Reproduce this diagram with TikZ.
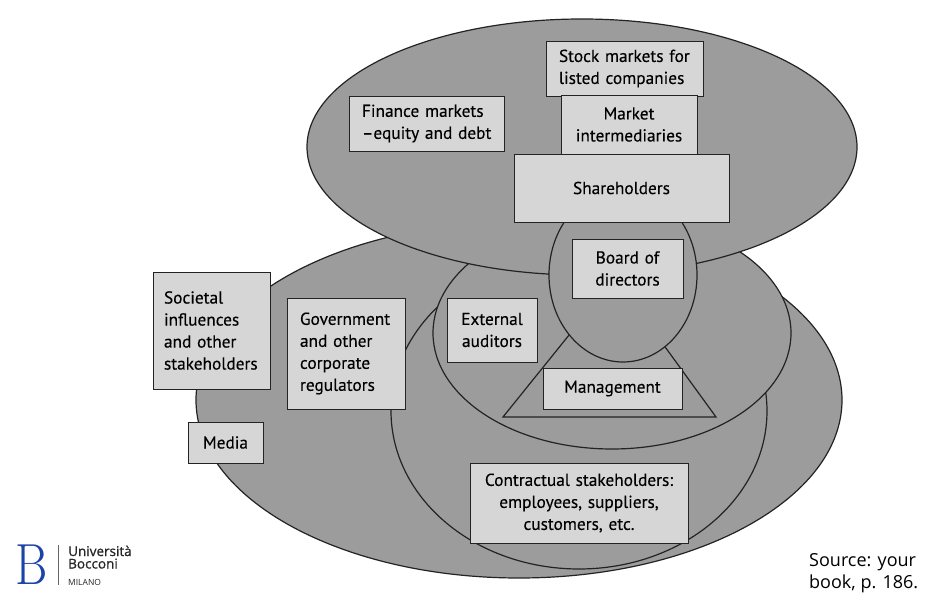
\documentclass[tikz,border=0pt]{standalone}
\usepackage{fontspec}
\newfontfamily\diag[FakeBold=0.25]{PT Sans}
\newfontfamily\srcf{Open Sans}
\newfontfamily\logof[FakeBold=0.9]{Open Sans}
\definecolor{ellc}{RGB}{156,156,156}
\definecolor{boxc}{RGB}{214,214,214}
\definecolor{linec}{RGB}{35,35,35}
\definecolor{bocblue}{RGB}{28,68,168}
\newcommand{\ia}{\hspace*{13pt}}
\newcommand{\ib}{\hspace*{11pt}}
\begin{document}
\begin{tikzpicture}[x=1pt,y=-1pt,
  ell/.style={fill=ellc, draw=linec, line width=1.2pt},
  bx/.style={draw=linec, fill=boxc, line width=0.9pt, inner ysep=0pt, inner xsep=0pt, font=\diag\fontsize{17.3}{22}\selectfont, text=black},
  ctr/.style={align=center},
  lft/.style={align=left},
  srctext/.style={font=\srcf\fontsize{18}{22}\selectfont, inner sep=0pt, anchor=base west},
  logotext/.style={font=\logof\fontsize{13.5}{14}\selectfont, inner sep=0pt, anchor=base west, text=black!85},
]
\useasboundingbox (0,0) rectangle (938,604);
\fill[white] (0,0) rectangle (938,604);
% ellipses
\draw[ell] (519,400) ellipse [x radius=323pt, y radius=178pt];
\draw[ell] (579,411) ellipse [x radius=188pt, y radius=158pt];
\draw[ell] (612,333) ellipse [x radius=179pt, y radius=116pt];
\draw[ell] (582,147) ellipse [x radius=275pt, y radius=128pt];
\draw[ell] (615,278) -- (503,417) -- (716,417) -- cycle;
\draw[ell] (623,275) ellipse [x radius=74pt, y radius=87pt];
% boxes
\node[bx, lft, text width=157pt, minimum width=157pt, minimum height=55pt] (stock) at (624.5,68.5) {\ia Stock markets for\\\ia listed companies};
\node[bx, ctr, text width=136pt, minimum width=136pt, minimum height=59pt] (mkt) at (629,124.5) {Market\\intermediaries};
\node[bx, ctr, text width=215pt, minimum width=215pt, minimum height=68pt] (share) at (621.5,188) {Shareholders};
\node[bx, lft, text width=155pt, minimum width=155pt, minimum height=55pt] (fin) at (426.5,123.5) {\ia Finance markets\\\ia –equity and debt};
\node[bx, ctr, text width=111pt, minimum width=111pt, minimum height=59pt] (board) at (627.5,268.5) {Board of\\directors};
\node[bx, ctr, text width=90pt, minimum width=90pt, minimum height=64pt] (aud) at (492,330) {External\\auditors};
\node[bx, ctr, text width=139pt, minimum width=139pt, minimum height=41pt] (mgmt) at (612.5,388.5) {Management};
\node[bx, lft, text width=117pt, minimum width=117pt, minimum height=117pt] (soc) at (211.5,330.5) {\ib Societal\\\ib influences\\\ib and other\\\ib stakeholders};
\node[bx, lft, text width=118pt, minimum width=118pt, minimum height=111pt] (gov) at (346,353.5) {\ia Government\\\ia and other\\\ia corporate\\\ia regulators};
\node[bx, ctr, text width=75pt, minimum width=75pt, minimum height=41pt] (media) at (225.5,442.5) {Media};
\node[bx, ctr, text width=218pt, minimum width=218pt, minimum height=80pt] (contr) at (579,503) {Contractual stakeholders:\\employees, suppliers,\\customers, etc.};
% source
\node[srctext] (src1) at (809,566) {Source: your};
\node[srctext] (src2) at (809,588) {book, p. 186.};
% logo
\node[inner sep=0pt, anchor=base west, text=bocblue, font=\fontsize{58}{58}\selectfont] (logoB) at (15,584) {\scalebox{0.85}[1]{B}};
\coordinate (lt) at (58,545);
\coordinate (lb) at (58,585);
\draw[black!60, line width=0.6pt] (lt) -- (lb);
\node[logotext] (uni) at (68,556) {Università};
\node[logotext] (boc) at (68,568.5) {Bocconi};
\node[logotext, font=\srcf\fontsize{8.5}{9}\selectfont] (mil) at (68,585) {MILANO};
\end{tikzpicture}
\end{document}
